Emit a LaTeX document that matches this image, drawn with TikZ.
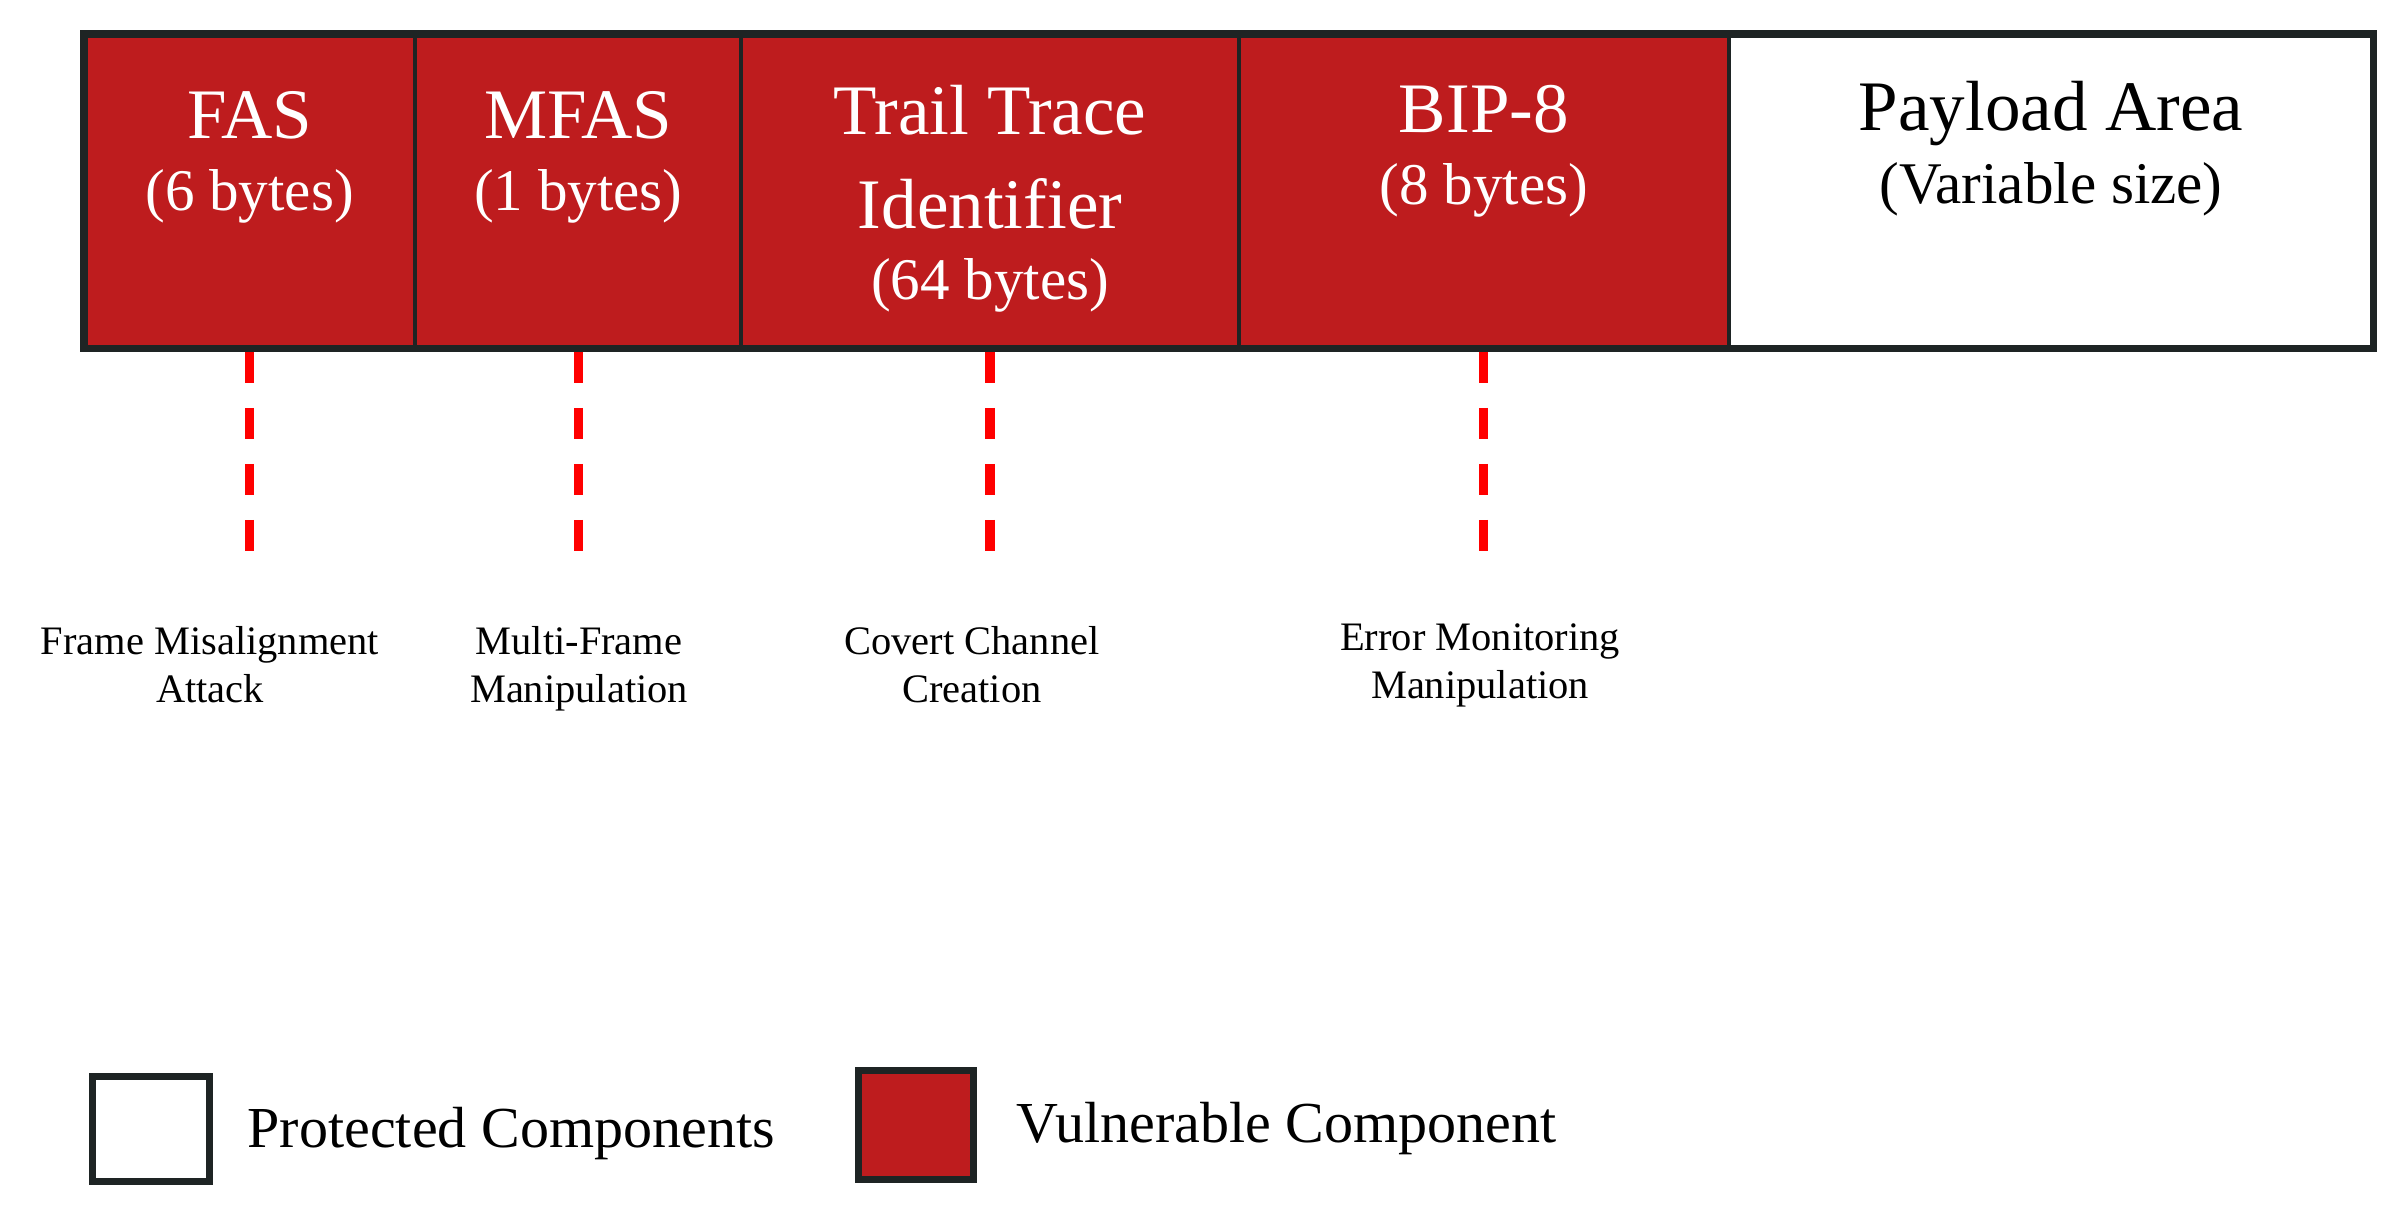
\documentclass[tikz,border=0pt]{standalone}
\usepackage{fontspec}
\setmainfont{Liberation Serif}
\usetikzlibrary{calc}
\usetikzlibrary{positioning}

\definecolor{vuln}{RGB}{190,28,30}
\definecolor{edge}{RGB}{30,36,36}

\tikzset{
    fieldbox/.style={draw=edge, line width=1.1pt, fill=vuln, inner sep=0pt, outer sep=0pt, anchor=north west, minimum height=3.14cm},
    fieldname/.style={text=white, font=\fontsize{20.2}{26.5}\selectfont, align=center, anchor=base, inner sep=0pt},
    fieldsize/.style={text=white, font=\fontsize{16.8}{20}\selectfont, anchor=base, inner sep=0pt},
    attacktext/.style={font=\fontsize{11.5}{13.4}\selectfont, align=center, anchor=base, inner sep=0pt},
    attackline/.style={draw=red, line width=2.6pt, dash pattern=on 8.8pt off 7.1pt, shorten <=1.1pt},
    legendbox/.style={draw=edge, line width=2pt, fill=white, inner sep=0pt, outer sep=0pt, anchor=north west},
    legendtext/.style={font=\fontsize{16.5}{20}\selectfont, anchor=base west, inner sep=0pt}
}

\begin{document}
\begin{tikzpicture}[x=0.01cm,y=-0.01cm]
    \useasboundingbox (0,0) rectangle (2403,1212);
    \coordinate (frame) at (84,34);
    \coordinate (hitend) at (0,552);

    % overhead fields
    \node[fieldbox, minimum width=3.31cm] (fas) at (frame) {};
    \node[fieldbox, minimum width=3.26cm] (mfas) at (fas.north east) {};
    \node[fieldbox, minimum width=4.97cm] (tti) at (mfas.north east) {};
    \node[fieldbox, minimum width=4.90cm] (bip) at (tti.north east) {};
    \node[fieldbox, minimum width=6.44cm, fill=white] (payload) at (bip.north east) {};

    \foreach \f in {fas,mfas,tti,bip}
        \draw[attackline] (\f.south) -- (\f.south |- hitend);

    \draw[draw=edge, line width=2pt] (fas.north west) rectangle (payload.south east);

    \node[fieldname] (fasname) at ($(fas.north)+(0,104)$) {FAS};
    \node[fieldsize] (fassize) at ($(fas.north)+(0,176)$) {(6 bytes)};
    \node[fieldname] (mfasname) at ($(mfas.north)+(0,104)$) {MFAS};
    \node[fieldsize] (mfassize) at ($(mfas.north)+(0,176)$) {(1 bytes)};
    \node[fieldname] (ttiname) at ($(tti.north)+(0,194)$) {Trail Trace\\Identifier};
    \node[fieldsize] (ttisize) at ($(tti.north)+(0,265)$) {(64 bytes)};
    \node[fieldname] (bipname) at ($(bip.north)+(0,98)$) {BIP-8};
    \node[fieldsize] (bipsize) at ($(bip.north)+(0,170)$) {(8 bytes)};
    \node[fieldname, text=black] (payloadname) at ($(payload.north)+(0,96)$) {Payload Area};
    \node[fieldsize, text=black] (payloadsize) at ($(payload.north)+(0,169)$) {(Variable size)};

    % attacks
    \node[attacktext] (fasatk) at (210,702) {Frame Misalignment\\Attack};
    \node[attacktext] (mfasatk) at (579,702) {Multi-Frame\\Manipulation};
    \node[attacktext] (ttiatk) at (972,702) {Covert Channel\\Creation};
    \node[attacktext] (bipatk) at (1480,698) {Error Monitoring\\Manipulation};

    % legend
    \node[legendbox, minimum width=1.17cm, minimum height=1.05cm] (protbox) at (92.5,1076.5) {};
    \node[legendtext] (protlabel) at (247,1147) {Protected Components};
    \node[legendbox, fill=vuln, minimum width=1.15cm, minimum height=1.09cm] (vulnbox) at (858.5,1070.5) {};
    \node[legendtext] (vulnlabel) at (1016,1142) {Vulnerable Component};
\end{tikzpicture}
\end{document}
